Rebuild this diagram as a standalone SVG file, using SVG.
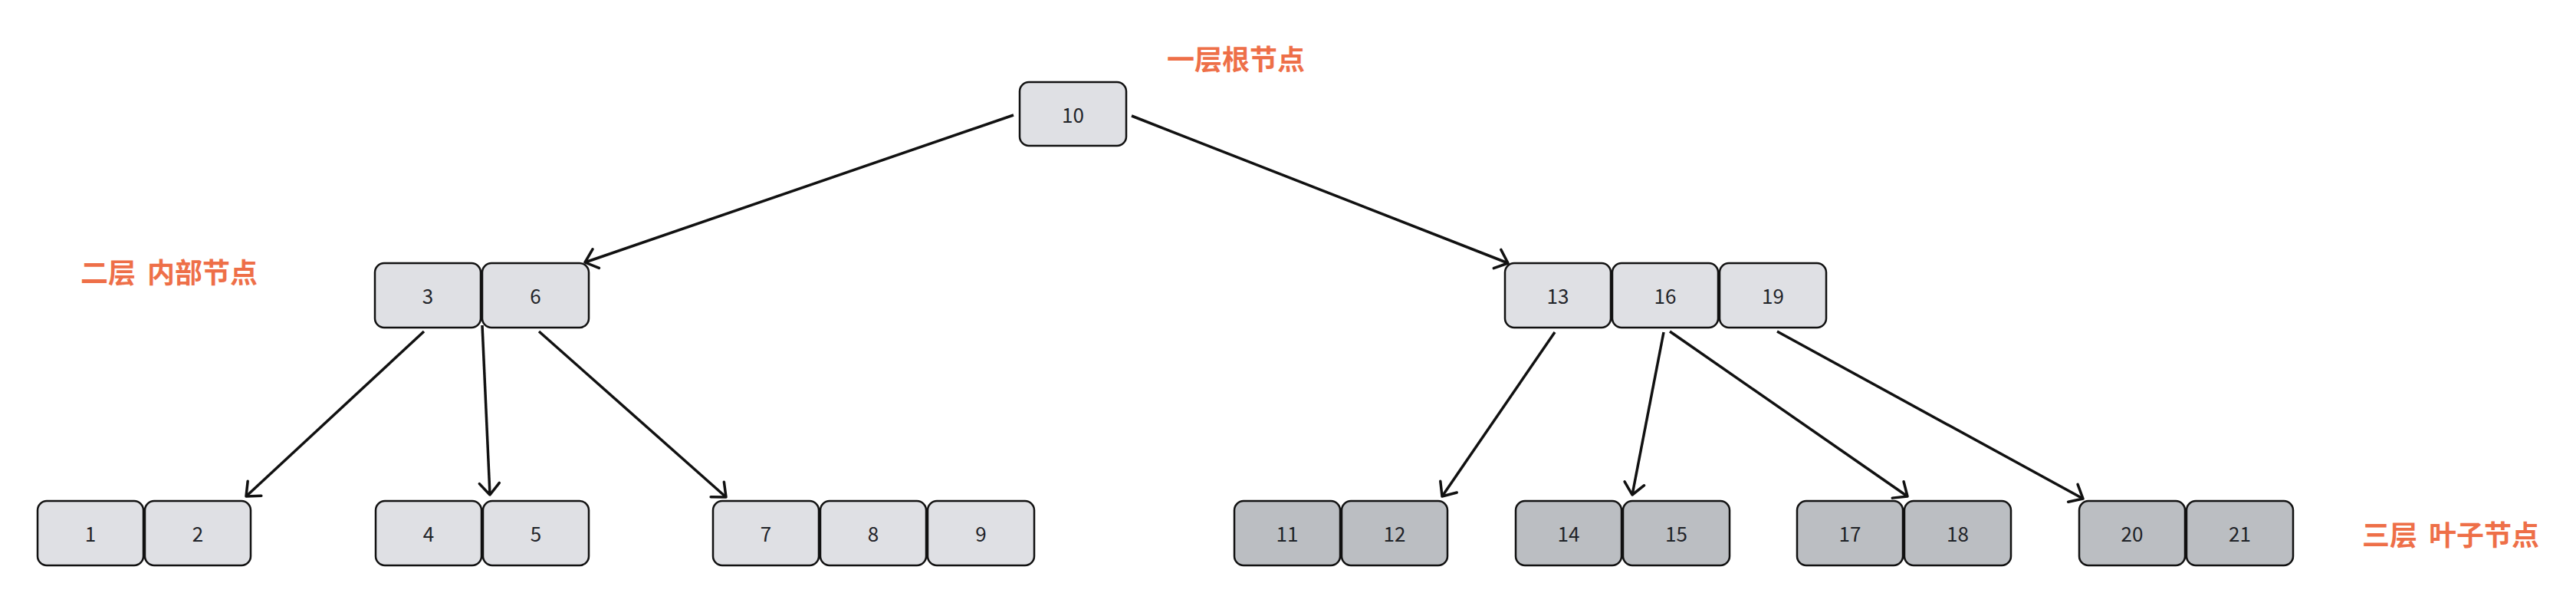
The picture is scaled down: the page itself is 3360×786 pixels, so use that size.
<svg xmlns="http://www.w3.org/2000/svg" width="3360" height="786" viewBox="0 0 3360 786">
  <style>
    .box { fill: #dfe0e4; stroke: #111111; stroke-width: 2.5; }
    .leaf { fill: #bbbec2; stroke: #111111; stroke-width: 2.5; }
    .num { font-family: "Noto Sans CJK SC", "Noto Sans", sans-serif; font-size: 26px; fill: #1f2328; text-anchor: middle; }
    .lbl { font-family: "Noto Sans CJK SC", "Noto Sans", sans-serif; font-size: 36px; font-weight: bold; fill: #ee6f48; }
    .edge { stroke: #111111; stroke-width: 3.5; fill: none; marker-end: url(#arrow); }
  </style>
  <defs>
    <marker id="arrow" markerUnits="userSpaceOnUse" viewBox="-20 -16 24 32" refX="0" refY="0" markerWidth="24" markerHeight="32" orient="auto">
      <path d="M-15,-13 L0,0 L-15,13" fill="none" stroke="#111111" stroke-width="3.5" stroke-linecap="round" stroke-linejoin="round"/>
    </marker>
  </defs>
  <rect width="3360" height="786" fill="#ffffff"/>

  <g id="labels">
    <text class="lbl" x="1522" y="91">一层根节点</text>
    <text class="lbl" y="369"><tspan x="105">二层</tspan><tspan x="192">内部节点</tspan></text>
    <text class="lbl" y="711"><tspan x="3081">三层</tspan><tspan x="3168">叶子节点</tspan></text>
  </g>

  <g id="connectors">
    <line class="edge" x1="1322" y1="150" x2="763" y2="342"/>
    <line class="edge" x1="1476" y1="151" x2="1967" y2="343"/>
    <line class="edge" x1="553" y1="432" x2="321" y2="647"/>
    <line class="edge" x1="629" y1="424" x2="639" y2="645"/>
    <line class="edge" x1="703" y1="432" x2="947" y2="648"/>
    <line class="edge" x1="2028" y1="433" x2="1881" y2="647"/>
    <line class="edge" x1="2170" y1="433" x2="2129" y2="645"/>
    <line class="edge" x1="2178" y1="432" x2="2488" y2="647"/>
    <line class="edge" x1="2318" y1="432" x2="2717" y2="650"/>
  </g>

  <g id="node-root">
    <rect class="box" x="1330" y="107" width="139" height="83" rx="12"/>
    <text class="num" x="1399.5" y="160">10</text>
  </g>

  <g id="node-3-6">
    <rect class="box" x="489" y="343" width="138" height="84" rx="12"/>
    <text class="num" x="558" y="396">3</text>
    <rect class="box" x="629" y="343" width="139" height="84" rx="12"/>
    <text class="num" x="698.5" y="396">6</text>
  </g>

  <g id="node-13-16-19">
    <rect class="box" x="1963" y="343" width="138" height="84" rx="12"/>
    <text class="num" x="2032" y="396">13</text>
    <rect class="box" x="2103" y="343" width="138" height="84" rx="12"/>
    <text class="num" x="2172" y="396">16</text>
    <rect class="box" x="2243" y="343" width="139" height="84" rx="12"/>
    <text class="num" x="2312.5" y="396">19</text>
  </g>

  <g id="node-1-2">
    <rect class="box" x="49" y="653" width="138" height="84" rx="12"/>
    <text class="num" x="118" y="706">1</text>
    <rect class="box" x="189" y="653" width="138" height="84" rx="12"/>
    <text class="num" x="258" y="706">2</text>
  </g>

  <g id="node-4-5">
    <rect class="box" x="490" y="653" width="138" height="84" rx="12"/>
    <text class="num" x="559" y="706">4</text>
    <rect class="box" x="630" y="653" width="138" height="84" rx="12"/>
    <text class="num" x="699" y="706">5</text>
  </g>

  <g id="node-7-8-9">
    <rect class="box" x="930" y="653" width="138" height="84" rx="12"/>
    <text class="num" x="999" y="706">7</text>
    <rect class="box" x="1070" y="653" width="138" height="84" rx="12"/>
    <text class="num" x="1139" y="706">8</text>
    <rect class="box" x="1210" y="653" width="139" height="84" rx="12"/>
    <text class="num" x="1279.5" y="706">9</text>
  </g>

  <g id="node-11-12">
    <rect class="leaf" x="1610" y="653" width="138" height="84" rx="12"/>
    <text class="num" x="1679" y="706">11</text>
    <rect class="leaf" x="1750" y="653" width="138" height="84" rx="12"/>
    <text class="num" x="1819" y="706">12</text>
  </g>

  <g id="node-14-15">
    <rect class="leaf" x="1977" y="653" width="138" height="84" rx="12"/>
    <text class="num" x="2046" y="706">14</text>
    <rect class="leaf" x="2117" y="653" width="139" height="84" rx="12"/>
    <text class="num" x="2186.5" y="706">15</text>
  </g>

  <g id="node-17-18">
    <rect class="leaf" x="2344" y="653" width="138" height="84" rx="12"/>
    <text class="num" x="2413" y="706">17</text>
    <rect class="leaf" x="2484" y="653" width="139" height="84" rx="12"/>
    <text class="num" x="2553.5" y="706">18</text>
  </g>

  <g id="node-20-21">
    <rect class="leaf" x="2712" y="653" width="138" height="84" rx="12"/>
    <text class="num" x="2781" y="706">20</text>
    <rect class="leaf" x="2852" y="653" width="139" height="84" rx="12"/>
    <text class="num" x="2921.5" y="706">21</text>
  </g>
</svg>
